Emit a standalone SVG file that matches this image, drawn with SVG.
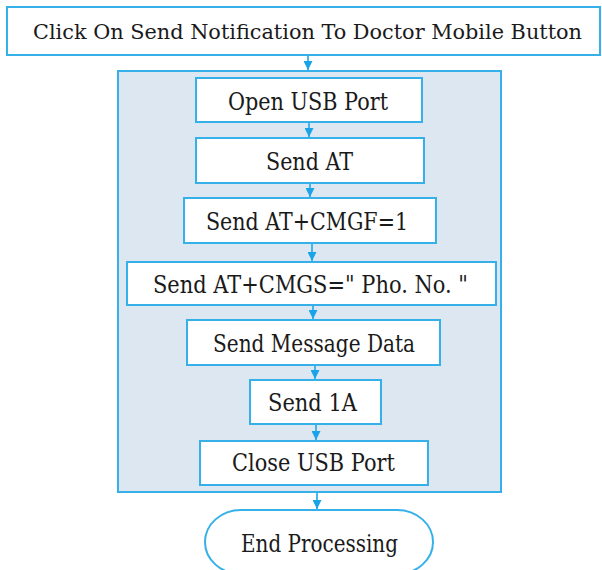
<svg xmlns="http://www.w3.org/2000/svg" width="602" height="570" viewBox="0 0 602 570">
<style>
.b{fill:#ffffff;stroke:#35b0e8;stroke-width:2}
.c{fill:#dde7f2;stroke:#35b0e8;stroke-width:2}
.t{font-family:'DejaVu Serif','Liberation Serif',serif;font-size:24px;fill:#1a1a1a;text-anchor:middle}
.l{stroke:#35b0e8;stroke-width:1.8;fill:none}
</style>
<defs>
<marker id="a" viewBox="0 0 10 10" refX="10" refY="5" markerWidth="5" markerHeight="5" orient="auto" markerUnits="strokeWidth">
<path d="M0,0 L10,5 L0,10 Z" fill="#1aa3e6"/>
</marker>
</defs>
<rect width="602" height="570" fill="#ffffff"/>
<g id="start"><rect class="b" x="7" y="7" width="593" height="48"/><text class="t" x="307.5" y="39" style="font-size:21px" textLength="549" lengthAdjust="spacingAndGlyphs">Click On Send Notification To Doctor Mobile Button</text></g>
<g id="container"><rect class="c" x="118" y="71" width="383" height="421"/></g>
<g id="open"><rect class="b" x="196" y="78" width="226" height="44"/><text class="t" x="308" y="110" textLength="160" lengthAdjust="spacingAndGlyphs">Open USB Port</text></g>
<g id="sendat"><rect class="b" x="196" y="138" width="228" height="45"/><text class="t" x="309.5" y="170" textLength="87" lengthAdjust="spacingAndGlyphs">Send AT</text></g>
<g id="cmgf"><rect class="b" x="184" y="198" width="252" height="45"/><text class="t" x="307" y="230" textLength="202" lengthAdjust="spacingAndGlyphs">Send AT+CMGF=1</text></g>
<g id="cmgs"><rect class="b" x="127" y="262" width="369" height="43"/><text class="t" x="310.5" y="293" textLength="315" lengthAdjust="spacingAndGlyphs">Send AT+CMGS=" Pho. No. "</text></g>
<g id="msg"><rect class="b" x="187" y="320" width="253" height="45"/><text class="t" x="314" y="352" textLength="202" lengthAdjust="spacingAndGlyphs">Send Message Data</text></g>
<g id="s1a"><rect class="b" x="250" y="380" width="131" height="44"/><text class="t" x="312.5" y="411" textLength="89" lengthAdjust="spacingAndGlyphs">Send 1A</text></g>
<g id="close"><rect class="b" x="200" y="441" width="228" height="44"/><text class="t" x="313.5" y="471" textLength="163" lengthAdjust="spacingAndGlyphs">Close USB Port</text></g>
<g id="end"><rect class="b" x="205" y="510" width="228" height="64" rx="36" ry="32"/><text class="t" x="319.5" y="552" textLength="157" lengthAdjust="spacingAndGlyphs">End Processing</text></g>
<g id="connectors">
<line class="l" x1="308" y1="55" x2="308" y2="70" marker-end="url(#a)"/>
<line class="l" x1="309" y1="122" x2="309" y2="137" marker-end="url(#a)"/>
<line class="l" x1="310" y1="183" x2="310" y2="197" marker-end="url(#a)"/>
<line class="l" x1="312" y1="243" x2="312" y2="261" marker-end="url(#a)"/>
<line class="l" x1="313" y1="305" x2="313" y2="319" marker-end="url(#a)"/>
<line class="l" x1="315" y1="365" x2="315" y2="379" marker-end="url(#a)"/>
<line class="l" x1="316" y1="424" x2="316" y2="440" marker-end="url(#a)"/>
<line class="l" x1="317" y1="492" x2="317" y2="509" marker-end="url(#a)"/>
</g>
</svg>
